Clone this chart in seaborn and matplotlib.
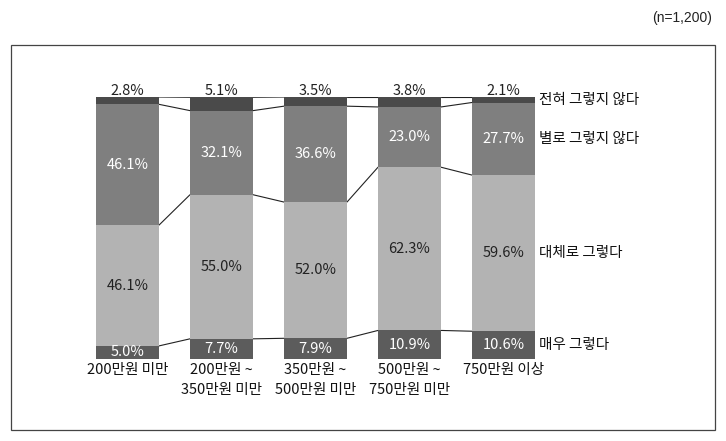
import matplotlib
matplotlib.use("Agg")
import matplotlib.pyplot as plt
import seaborn as sns
import pandas as pd
import numpy as np
from matplotlib.patches import Rectangle

sns.set_theme(style="white")
plt.rcParams['font.family'] = ['Noto Sans CJK KR', 'DejaVu Sans']

categories = ["200만원 미만", "200만원 ~\n350만원 미만", "350만원 ~\n500만원 미만",
              "500만원 ~\n750만원 미만", "750만원 이상"]
series_names = ["매우 그렇다", "대체로 그렇다", "별로 그렇지 않다", "전혀 그렇지 않다"]
very_yes = [5.0, 7.7, 7.9, 10.9, 10.6]
mostly_yes = [46.1, 55.0, 52.0, 62.3, 59.6]
mostly_no = [46.1, 32.1, 36.6, 23.0, 27.7]
never_no = [2.8, 5.1, 3.5, 3.8, 2.1]
values = [very_yes, mostly_yes, mostly_no, never_no]
colors = ["#5c5c5c", "#b3b3b3", "#7f7f7f", "#4a4a4a"]
text_colors = ["white", "#222222", "white", "#222222"]

fig = plt.figure(figsize=(7.26, 4.41), dpi=100)
W, H = 726, 441
# outer frame
fig.patches.append(Rectangle((11 / W, 1 - 430 / H), (715 - 11) / W, (430 - 45) / H,
                             transform=fig.transFigure, fill=False, edgecolor="#444444", lw=0.9))
fig.text(712 / W, 1 - 18 / H, "(n=1,200)", ha="right", va="center", fontsize=10,
         family=['Liberation Sans', 'DejaVu Sans'], color="#222222")

ax = fig.add_axes([80.5 / W, 1 - 359 / H, 470 / W, (359 - 97) / H])
x = np.arange(len(categories))
bw = 63 / 94
fs = 10.5
bottom = np.zeros(len(categories))
for i, (name, vals) in enumerate(zip(series_names, values)):
    df = pd.DataFrame({"cat": x, "v": vals})
    ax.bar(df["cat"], df["v"], bottom=bottom, width=bw, color=colors[i], edgecolor="none", zorder=2)
    for j, v in enumerate(vals):
        if i == 3:
            ax.text(x[j], 100 - 0.2, f"{v:.1f}%", ha="center", va="bottom", fontsize=fs,
                    color="#222222")
        else:
            ax.text(x[j], bottom[j] + v / 2, f"{v:.1f}%", ha="center", va="center",
                    fontsize=fs, color=text_colors[i])
    top = bottom + np.array(vals)
    # series lines between bars
    for j in range(len(categories) - 1):
        ax.plot([x[j] + bw / 2, x[j + 1] - bw / 2], [top[j], top[j + 1]],
                color="#222222", lw=0.8, zorder=1)
    # right-side series label at last bar
    ax.text(x[-1] + bw / 2 + 0.04, bottom[-1] + vals[-1] / 2, name, ha="left", va="center",
            fontsize=fs, color="#111111")
    bottom = top

ax.set_xlim(-0.5, 4.5)
ax.set_ylim(0, 100)
ax.set_xticks(x)
ax.set_xticklabels(categories, fontsize=fs, linespacing=1.55, color="#111111")
ax.tick_params(axis="x", length=0, pad=3)
ax.set_yticks([])
for s in ax.spines.values():
    s.set_visible(False)
ax.set_facecolor("none")

fig.savefig("out.png", dpi=100)
